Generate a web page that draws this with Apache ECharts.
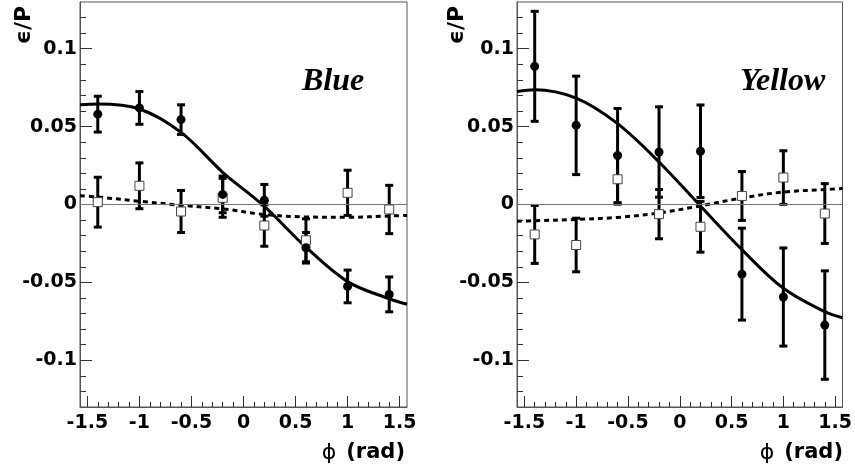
<!DOCTYPE html>
<html>
<head>
<meta charset="utf-8">
<script src="https://cdn.jsdelivr.net/npm/echarts@6/dist/echarts.min.js"></script>
<style>
  html, body { margin: 0; padding: 0; background: #fff; }
  #main { width: 855px; height: 473px; }
</style>
</head>
<body>
<div id="main"></div>
<script>
// phi bins (rad)
var phiBins = [-1.4, -1.0, -0.6, -0.2, 0.2, 0.6, 1.0, 1.4];

// Blue beam: filled circles (asymmetry) and open squares (null check)
var blueAsym    = [0.058, 0.062, 0.0545, 0.0065, 0.0027, -0.0278, -0.0526, -0.0577];
var blueAsymErr = [0.0115, 0.0105, 0.0095, 0.0118, 0.0102, 0.0098, 0.0105, 0.0112];
var blueNull    = [0.0015, 0.012, -0.0045, 0.0043, -0.0135, -0.023, 0.0075, -0.0032];
var blueNullErr = [0.016, 0.0147, 0.0135, 0.0125, 0.0133, 0.0138, 0.0145, 0.0155];

// Yellow beam
var yellowAsym    = [0.0887, 0.0508, 0.0314, 0.0337, 0.0342, -0.0447, -0.0594, -0.0774];
var yellowAsymErr = [0.0353, 0.0316, 0.0302, 0.029, 0.0297, 0.0295, 0.0315, 0.0348];
var yellowNull    = [-0.0192, -0.026, 0.0162, -0.0062, -0.0143, 0.0055, 0.0173, -0.0058];
var yellowNullErr = [0.0186, 0.0172, 0.016, 0.0158, 0.0163, 0.0157, 0.0172, 0.0192];

// fit curves
var fitPhi        = [-1.5708, -1.4, -1.0, -0.6, -0.2, 0.2, 0.6, 1.0, 1.4, 1.5708];
var blueFit       = [0.064, 0.0645, 0.0613, 0.0463, 0.0207, -0.0012, -0.0274, -0.0495, -0.0605, -0.064];
var blueFitNull   = [0.0056, 0.0048, 0.0021, -0.0005, -0.0028, -0.0064, -0.008, -0.0082, -0.0074, -0.007];
var yellowFit     = [0.0726, 0.0737, 0.0683, 0.0519, 0.0273, -0.001, -0.029, -0.0538, -0.0688, -0.0727];
var yellowFitNull = [-0.0107, -0.0104, -0.0096, -0.0083, -0.0054, -0.0009, 0.0042, 0.008, 0.0096, 0.0103];

// tick labels
var xMajor = [-1.5, -1, -0.5, 0, 0.5, 1, 1.5];
var yMajor = [-0.1, -0.05, 0, 0.05, 0.1];
var xMinor = [];
for (var i = -15; i <= 15; i++) xMinor.push(i / 10);
var yMinor = [];
for (var j = -12; j <= 12; j++) yMinor.push(j / 100);

var labelFont = { fontFamily: 'DejaVu Sans', fontWeight: 'bold', fontSize: 19, color: '#000' };

function pairs(xs, ys) {
    return xs.map(function (x, k) { return [x, ys[k]]; });
}
function triples(xs, ys, es) {
    return xs.map(function (x, k) { return [x, ys[k], es[k]]; });
}

function errRender(params, api) {
    var x = api.value(0), y = api.value(1), e = api.value(2);
    var top = api.coord([x, y + e]);
    var bot = api.coord([x, y - e]);
    return {
        type: 'group',
        children: [
            { type: 'line', shape: { x1: top[0], y1: top[1], x2: bot[0], y2: bot[1] },
              style: { stroke: '#000', lineWidth: 3 } },
            { type: 'rect', shape: { x: top[0] - 4, y: top[1] - 1.5, width: 8, height: 3 },
              style: { fill: '#000' } },
            { type: 'rect', shape: { x: bot[0] - 4, y: bot[1] - 1.5, width: 8, height: 3 },
              style: { fill: '#000' } }
        ]
    };
}

function xAxes(g) {
    return [
        {
            type: 'value', gridIndex: g, min: -Math.PI / 2, max: Math.PI / 2, position: 'bottom',
            axisLine: { show: true, onZero: false, lineStyle: { color: '#555', width: 1 } },
            axisTick: { show: true, inside: true, length: 11, customValues: xMajor, lineStyle: { color: '#333' } },
            axisLabel: Object.assign({ customValues: xMajor, margin: 7 }, labelFont),
            splitLine: { show: false }
        },
        {
            type: 'value', gridIndex: g, min: -Math.PI / 2, max: Math.PI / 2, position: 'bottom',
            axisLine: { show: false, onZero: false },
            axisTick: { show: true, inside: true, length: 5, customValues: xMinor, lineStyle: { color: '#333' } },
            axisLabel: { show: false },
            splitLine: { show: false }
        }
    ];
}

function yAxes(g) {
    return [
        {
            type: 'value', gridIndex: g, min: -0.13, max: 0.13, position: 'left',
            axisLine: { show: true, onZero: false, lineStyle: { color: '#555', width: 1 } },
            axisTick: { show: true, inside: true, length: 12, customValues: yMajor, lineStyle: { color: '#333' } },
            axisLabel: Object.assign({ customValues: yMajor, margin: 3 }, labelFont),
            splitLine: { show: false }
        },
        {
            type: 'value', gridIndex: g, min: -0.13, max: 0.13, position: 'left',
            axisLine: { show: false, onZero: false },
            axisTick: { show: true, inside: true, length: 6, customValues: yMinor, lineStyle: { color: '#333' } },
            axisLabel: { show: false },
            splitLine: { show: false }
        }
    ];
}

function panelSeries(g, asym, asymErr, nul, nulErr, fit, fitNull) {
    var xi = g * 2, yi = g * 2;
    return [
        {
            type: 'custom', xAxisIndex: xi, yAxisIndex: yi, renderItem: errRender,
            data: triples(phiBins, nul, nulErr), encode: { x: 0, y: 1 }, z: 3, silent: true
        },
        {
            type: 'custom', xAxisIndex: xi, yAxisIndex: yi, renderItem: errRender,
            data: triples(phiBins, asym, asymErr), encode: { x: 0, y: 1 }, z: 3, silent: true
        },
        {
            type: 'line', xAxisIndex: xi, yAxisIndex: yi, data: pairs(fitPhi, fit),
            smooth: 0.35, showSymbol: false, lineStyle: { color: '#000', width: 3 }, z: 4,
            markLine: {
                silent: true, symbol: ['none', 'none'], label: { show: false },
                lineStyle: { color: '#777', width: 1, type: 'solid' },
                data: [{ yAxis: 0 }]
            }
        },
        {
            type: 'line', xAxisIndex: xi, yAxisIndex: yi, data: pairs(fitPhi, fitNull),
            smooth: 0.35, showSymbol: false, lineStyle: { color: '#000', width: 3, type: [5, 4] }, z: 4
        },
        {
            type: 'scatter', xAxisIndex: xi, yAxisIndex: yi, data: pairs(phiBins, nul),
            symbol: 'rect', symbolSize: 9,
            itemStyle: { color: '#fff', borderColor: '#444', borderWidth: 1, opacity: 1 }, z: 5
        },
        {
            type: 'scatter', xAxisIndex: xi, yAxisIndex: yi, data: pairs(phiBins, asym),
            symbol: 'circle', symbolSize: 9, itemStyle: { color: '#000', opacity: 1 }, z: 6
        }
    ];
}

var myChart = echarts.init(document.getElementById('main'));

var yTitle = {
    text: 'ϵ/P',
    font: 'bold 22px "DejaVu Sans"',
    fill: '#000',
    textAlign: 'center',
    textVerticalAlign: 'middle'
};
var xTitle = {
    text: '{p|ϕ}{b|(rad)}',
    rich: {
        p: { fontFamily: 'DejaVu Sans', fontSize: 22, color: '#000', padding: [0, 10, 0, 0] },
        b: { fontFamily: 'DejaVu Sans', fontWeight: 'bold', fontSize: 21, color: '#000' }
    },
    textAlign: 'right',
    textVerticalAlign: 'middle'
};

var option = {
    animation: false,
    backgroundColor: '#fff',
    grid: [
        { left: 80, right: 448, top: 2, bottom: 66, show: true, borderColor: '#555', borderWidth: 1, backgroundColor: 'transparent' },
        { left: 517, right: 11, top: 2, bottom: 66, show: true, borderColor: '#555', borderWidth: 1, backgroundColor: 'transparent' }
    ],
    xAxis: xAxes(0).concat(xAxes(1)),
    yAxis: yAxes(0).concat(yAxes(1)),
    series: panelSeries(0, blueAsym, blueAsymErr, blueNull, blueNullErr, blueFit, blueFitNull)
        .concat(panelSeries(1, yellowAsym, yellowAsymErr, yellowNull, yellowNullErr, yellowFit, yellowFitNull)),
    graphic: [
        { type: 'text', x: 24, y: 25, rotation: Math.PI / 2, style: yTitle },
        { type: 'text', x: 457, y: 25, rotation: Math.PI / 2, style: yTitle },
        { type: 'text', x: 405, y: 453, style: xTitle },
        { type: 'text', x: 843, y: 453, style: xTitle },
        { type: 'text', x: 302, y: 82, style: { text: 'Blue', font: 'italic bold 32px "Liberation Serif"', fill: '#000', textVerticalAlign: 'middle' } },
        { type: 'text', x: 740, y: 82, style: { text: 'Yellow', font: 'italic bold 32px "Liberation Serif"', fill: '#000', textVerticalAlign: 'middle' } }
    ]
};

myChart.setOption(option);
</script>
</body>
</html>
